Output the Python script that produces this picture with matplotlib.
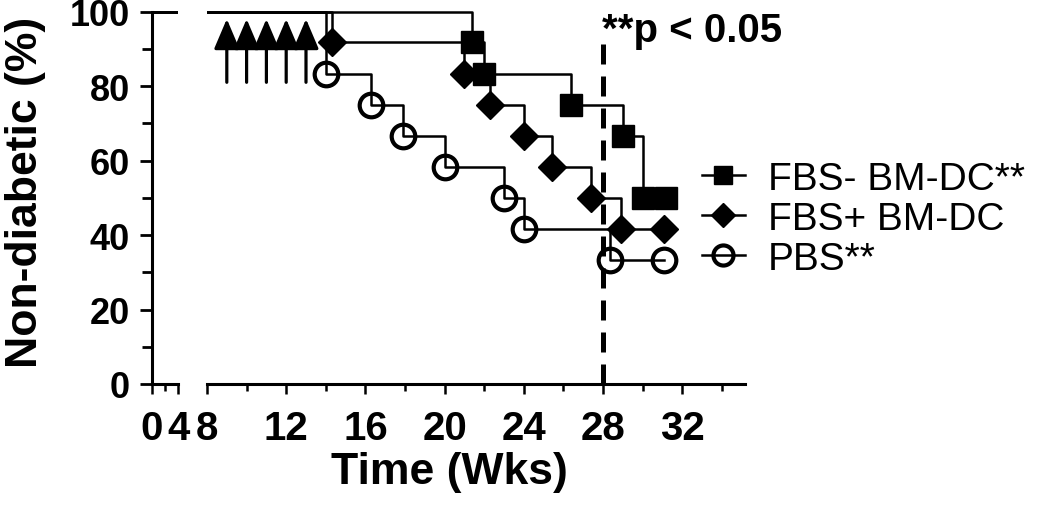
import matplotlib
matplotlib.use("Agg")
import matplotlib.pyplot as plt
from matplotlib.ticker import FixedLocator

plt.rcParams["font.family"] = ["Liberation Sans", "DejaVu Sans"]

# Kaplan-Meier style data (weeks, % non-diabetic), first point is the start
fbs_neg_weeks = [0, 21.4, 22.0, 26.4, 29.0, 30.0, 31.2]
fbs_neg_pct = [100, 91.7, 83.3, 75.0, 66.7, 50.0, 50.0]

fbs_pos_weeks = [0, 14.3, 21.0, 22.3, 24.0, 25.4, 27.4, 28.9, 31.1]
fbs_pos_pct = [100, 91.7, 83.3, 75.0, 66.7, 58.3, 50.0, 41.7, 41.7]

pbs_weeks = [0, 14.0, 16.3, 17.9, 20.0, 23.0, 24.0, 28.35, 31.1]
pbs_pct = [100, 83.3, 75.0, 66.7, 58.3, 50.0, 41.7, 33.3, 33.3]

labels = ["FBS- BM-DC**", "FBS+ BM-DC", "PBS**"]

# injection arrows
arrow_weeks = [9, 10, 11, 12, 13]
arrow_from, arrow_to = 81, 98

cutoff_week = 28
cutoff_top = 93
p_text = "**p < 0.05"

W, H = 1050, 510
fig = plt.figure(figsize=(W / 100, H / 100), dpi=100)
bottom = 1 - 385 / H
height = (385 - 8.8) / H
ax1 = fig.add_axes([151.7 / W, bottom, 26.6 / W, height])
ax2 = fig.add_axes([207 / W, bottom, 538 / W, height], sharey=ax1)

series = [
    (fbs_neg_weeks, fbs_neg_pct, dict(marker="s", ms=16, mfc="black", mec="black", mew=1)),
    (fbs_pos_weeks, fbs_pos_pct, dict(marker="D", ms=14, mfc="black", mec="black", mew=1)),
    (pbs_weeks, pbs_pct, dict(marker="o", ms=17, mfc="none", mec="black", mew=3)),
]

handles = []
for (wk, pct, style), lab in zip(series, labels):
    (ln,) = ax2.plot(wk, pct, color="black", lw=1.8, drawstyle="steps-post",
                     markevery=slice(1, None), label=lab, **style)
    handles.append(ln)
    ax1.plot(wk, pct, color="black", lw=1.8, drawstyle="steps-post")

for w in arrow_weeks:
    ax2.annotate("", xy=(w, arrow_to), xytext=(w, arrow_from),
                 arrowprops=dict(arrowstyle="-|>,head_length=0.4,head_width=0.17",
                                 mutation_scale=46, lw=2.3, color="black",
                                 shrinkA=0, shrinkB=0))

ax2.plot([cutoff_week, cutoff_week], [0, cutoff_top], color="black", lw=3.6,
         ls=(0, (4, 2.4)), clip_on=False)
ax2.text(cutoff_week - 0.05, 92, p_text, fontsize=29, fontweight="bold",
         ha="left", va="baseline")

ax1.set_xlim(0, 4)
ax2.set_xlim(8, 8 + 538 / 19.8)
ax1.set_ylim(0, 101)

for ax in (ax1, ax2):
    ax.spines["top"].set_visible(False)
    ax.spines["right"].set_visible(False)
    ax.spines["bottom"].set_linewidth(2.2)
    ax.patch.set_visible(False)
ax2.spines["left"].set_visible(False)
ax1.spines["left"].set_linewidth(2.2)
ax1.spines["left"].set_bounds(0, 100)

ax1.yaxis.set_major_locator(FixedLocator([0, 20, 40, 60, 80, 100]))
ax1.yaxis.set_minor_locator(FixedLocator([10, 30, 50, 70, 90]))
ax1.xaxis.set_major_locator(FixedLocator([0, 4]))
ax1.xaxis.set_minor_locator(FixedLocator([2]))
ax2.xaxis.set_major_locator(FixedLocator([8, 12, 16, 20, 24, 28, 32]))
ax2.xaxis.set_minor_locator(FixedLocator([10, 14, 18, 22, 26, 30, 34]))

ax1.tick_params(axis="y", which="major", length=8.5, width=2, pad=7, labelsize=26)
ax1.tick_params(axis="y", which="minor", length=7, width=2)
for ax in (ax1, ax2):
    ax.tick_params(axis="x", which="major", length=7, width=1.8, pad=11, labelsize=29)
    ax.tick_params(axis="x", which="minor", length=5, width=1.8)
ax2.tick_params(axis="y", which="both", left=False, labelleft=False)
for lab in ax1.get_yticklabels() + ax1.get_xticklabels() + ax2.get_xticklabels():
    lab.set_fontweight("bold")

fig.text(449 / W, 1 - 452 / H, "Time (Wks)", fontsize=32, fontweight="bold",
         ha="center", va="top")
fig.text(26 / W, 1 - 192 / H, "Non-diabetic (%)", fontsize=32, fontweight="bold",
         rotation=90, ha="center", va="center")

ax2.legend(handles=handles, loc="upper left", bbox_to_anchor=(702 / W, 1 - 162 / H),
           bbox_transform=fig.transFigure, frameon=False, fontsize=28,
           handlelength=1.1, handletextpad=0.6, labelspacing=0.1,
           borderpad=0, borderaxespad=0, markerscale=0.85)

fig.savefig("out.png", dpi=100)
